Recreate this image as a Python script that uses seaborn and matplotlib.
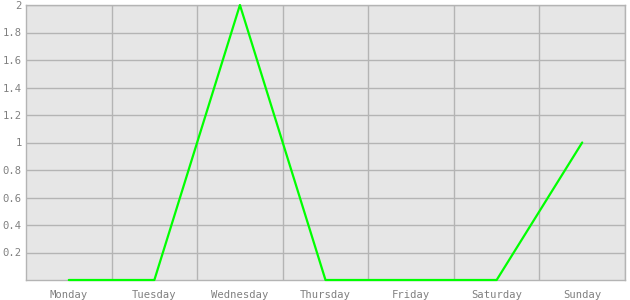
import matplotlib
matplotlib.use("Agg")
import matplotlib.pyplot as plt
import seaborn as sns
import pandas as pd
import numpy as np
from matplotlib.ticker import FixedLocator, FuncFormatter

days = ["Monday", "Tuesday", "Wednesday", "Thursday", "Friday", "Saturday", "Sunday"]
values = [0, 0, 2, 0, 0, 0, 1]
y_ticks = [0.2, 0.4, 0.6, 0.8, 1.0, 1.2, 1.4, 1.6, 1.8, 2.0]

sns.set_style("white")
plt.rcParams['font.family'] = ['DejaVu Sans Mono']

df = pd.DataFrame({"day": days, "value": values})

fig = plt.figure(figsize=(6.3, 3.0), dpi=100)
ax = fig.add_axes([26/630, 20/300, 599/630, 275/300])
ax.set_facecolor("#e6e6e6")

sns.lineplot(data=df, x="day", y="value", sort=False, color="#00ff00", linewidth=1.6, ax=ax, zorder=5)
for ln in ax.get_lines():
    ln.set_clip_on(False)

ax.set_xlim(-0.5, len(days) - 0.5)
ax.set_ylim(0, 2)
ax.set_xlabel("")
ax.set_ylabel("")

grid_c = "#b4b4b4"
ax.yaxis.set_major_locator(FixedLocator(y_ticks))
ax.yaxis.set_major_formatter(FuncFormatter(lambda v, p: f"{v:g}"))
ax.xaxis.set_minor_locator(FixedLocator(np.arange(0.5, len(days), 1.0)))
ax.grid(True, which="major", axis="y", color=grid_c, linewidth=1)
ax.grid(True, which="minor", axis="x", color=grid_c, linewidth=1)
ax.grid(False, which="major", axis="x")
ax.set_axisbelow(True)

ax.tick_params(axis="y", length=0, pad=3, labelsize=7.6, labelcolor="#808080")
ax.tick_params(axis="x", which="major", length=4, width=1, color=grid_c, pad=3, labelsize=7.6, labelcolor="#808080")
ax.tick_params(axis="x", which="minor", length=0)

for s in ax.spines.values():
    s.set_color(grid_c)
    s.set_linewidth(1)
    s.set_zorder(2)

fig.savefig("out.png", dpi=100)
